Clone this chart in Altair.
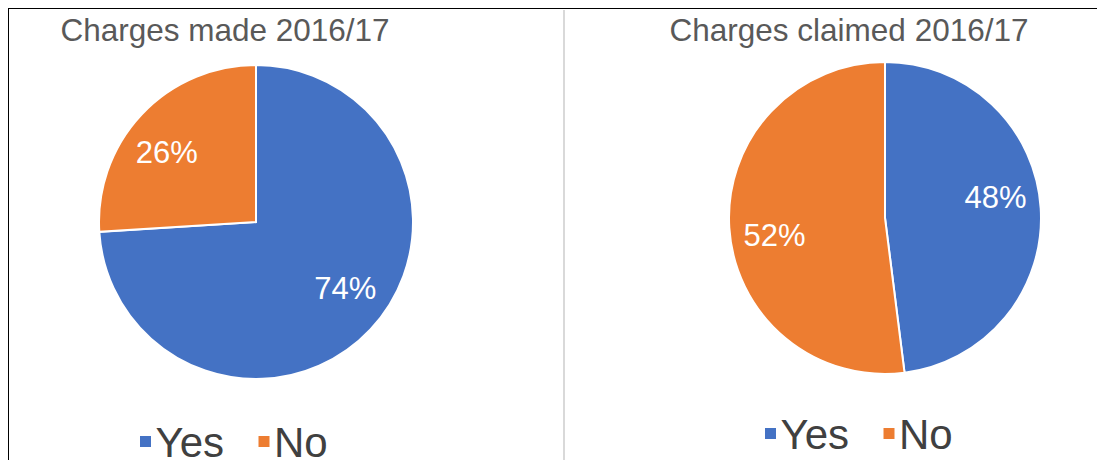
import altair as alt
import pandas as pd

# ---- data ----
categories = ["Yes", "No"]
made_pct = [74, 26]
claimed_pct = [48, 52]
titles = ["Charges made 2016/17", "Charges claimed 2016/17"]
colors = ["#4472C4", "#ED7D31"]

W, H = 1089, 452
FONT = "Liberation Sans"

made_df = pd.DataFrame({"cat": categories, "val": made_pct, "idx": [0, 1],
                        "lbl": [f"{v}%" for v in made_pct]})
claimed_df = pd.DataFrame({"cat": categories, "val": claimed_pct, "idx": [0, 1],
                           "lbl": [f"{v}%" for v in claimed_pct]})
legend_df = pd.DataFrame({"cat": categories})
one = pd.DataFrame({"a": [0]})

color_enc = alt.Color("cat:N", scale=alt.Scale(domain=categories, range=colors), legend=None)


def pie(df, cx, cy, r, title, tx, leg_x, leg_y):
    base = alt.Chart(df)
    arc = base.mark_arc(stroke="white", strokeWidth=2, outerRadius=r).encode(
        theta=alt.Theta("val:Q", stack=True),
        color=color_enc,
        order=alt.Order("idx:Q"),
        x=alt.value(cx), y=alt.value(cy),
    )
    txt = base.mark_text(radius=112, thetaOffset=-0.105, fontSize=31, font=FONT,
                         color="white").encode(
        theta=alt.Theta("val:Q", stack=True),
        order=alt.Order("idx:Q"),
        text="lbl:N",
        x=alt.value(cx), y=alt.value(cy),
    )
    ttl = alt.Chart(pd.DataFrame({"t": [title]})).mark_text(
        fontSize=31.5, font=FONT, color="#595959", baseline="middle", align="center"
    ).encode(text="t:N", x=alt.value(tx), y=alt.value(24))

    # legend: squares + labels
    xs = alt.X("cat:N", scale=alt.Scale(domain=categories, range=leg_x, padding=0),
               axis=None)
    lb = alt.Chart(legend_df)
    sq = lb.mark_square(size=121, opacity=1).encode(
        x=xs, y=alt.value(leg_y - 15.5), color=color_enc)
    lt = lb.mark_text(fontSize=42, font=FONT, color="#404040", align="left",
                      baseline="alphabetic", dx=10).encode(
        x=xs, y=alt.value(leg_y), text="cat:N")
    return [arc, txt, ttl, sq, lt]


layers = []
layers += pie(made_df, 248, 214, 157, titles[0], 217, [137.5, 256], 449)
layers += pie(claimed_df, 877, 210, 156, titles[1], 841, [762.5, 881], 441)

sep = alt.Chart(one).mark_rule(color="#d9d9d9", strokeWidth=2).encode(
    x=alt.value(556), y=alt.value(2), y2=alt.value(H))
top = alt.Chart(one).mark_rule(color="black", strokeWidth=2).encode(
    x=alt.value(0), x2=alt.value(W), y=alt.value(0))
left = alt.Chart(one).mark_rule(color="black", strokeWidth=2).encode(
    x=alt.value(0), y=alt.value(0), y2=alt.value(H))

chart = alt.layer(sep, top, left, *layers).resolve_scale(x="independent").properties(
    width=W, height=H, autosize=alt.AutoSizeParams(type="none"), padding=0,
    background="white",
).configure_view(stroke=None)

chart.save("out.html", embed_options={"renderer": "svg", "actions": False})
